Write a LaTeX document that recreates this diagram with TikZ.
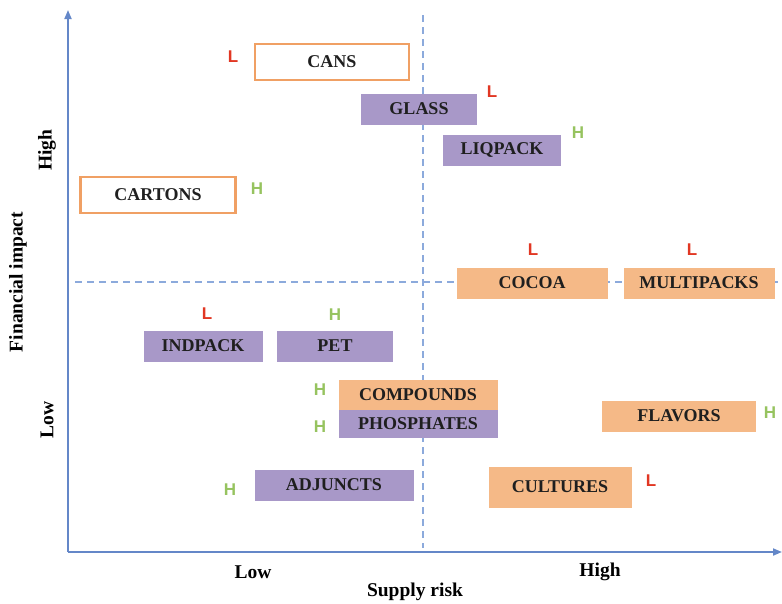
\documentclass[tikz,border=0pt]{standalone}
\usepackage{fontspec}
\setmainfont{Liberation Serif}
\newfontfamily\markfont{Liberation Sans}
\usetikzlibrary{arrows.meta}
\definecolor{axisblue}{RGB}{100,135,200}
\definecolor{dashblue}{RGB}{140,170,220}
\definecolor{boxpurple}{RGB}{168,152,200}
\definecolor{boxorange}{RGB}{245,185,135}
\definecolor{lineorange}{RGB}{240,160,100}
\definecolor{markred}{RGB}{225,55,35}
\definecolor{markgreen}{RGB}{150,195,95}
\tikzset{
  every node/.style={inner sep=0pt, outer sep=0pt},
  item/.style={minimum width=#1, font=\fontsize{18}{18}\selectfont\bfseries, text=black!88},
  purplebox/.style={item=#1, fill=boxpurple, minimum height=31},
  orangebox/.style={item=#1, fill=boxorange, minimum height=31},
  openbox/.style={item=#1, draw=lineorange, line width=2.5pt, fill=white, minimum height=36},
  lowmark/.style={font=\markfont\fontsize{17}{17}\selectfont\bfseries, text=markred},
  highmark/.style={font=\markfont\fontsize{17}{17}\selectfont\bfseries, text=markgreen},
  axislabel/.style={font=\fontsize{19.5}{19.5}\selectfont\bfseries},
  axis/.style={draw=axisblue, line width=1.8pt, -{Triangle[length=9pt,width=7pt]}},
  divider/.style={draw=dashblue, line width=1.3pt, dash pattern=on 7pt off 5pt},
}
\begin{document}
\begin{tikzpicture}[x=1pt,y=-1pt]
\useasboundingbox (0,0) rectangle (782,603);

% axes and quadrant dividers
\coordinate (origin) at (68,552);
\coordinate (ytip) at (68,10);
\coordinate (xtip) at (782,552);
\coordinate (hstart) at (75,282);
\coordinate (hend) at (782,282);
\coordinate (vstart) at (423,15);
\coordinate (vend) at (423,548);
\draw[divider] (hstart) -- (hend);
\draw[divider] (vstart) -- (vend);
\draw[axis] (origin) -- (ytip);
\draw[axis] (origin) -- (xtip);

% axis labels
\node[axislabel] (xlow) at (253,572) {Low};
\node[axislabel] (xhigh) at (600,572) {High};
\node[axislabel] (xname) at (415,592) {Supply risk};
\node[axislabel, rotate=90] (yhigh) at (47,150) {High};
\node[axislabel, rotate=90] (yname) at (18,282) {Financial impact};
\node[axislabel, rotate=90] (ylow) at (47,420) {Low};

% items
\node[openbox=154] (cans) at (332,62) {CANS};
\node[lowmark] (cansm) at (233,57) {L};
\node[purplebox=116] (glass) at (419,109) {GLASS};
\node[lowmark] (glassm) at (492,92) {L};
\node[purplebox=118] (liqpack) at (502,150) {LIQPACK};
\node[highmark] (liqpackm) at (578,133) {H};
\node[openbox=155] (cartons) at (158,195) {CARTONS};
\node[highmark] (cartonsm) at (257,189) {H};
\node[orangebox=151] (cocoa) at (532,283) {COCOA};
\node[lowmark] (cocoam) at (533,250) {L};
\node[orangebox=151] (multipacks) at (699,283) {MULTIPACKS};
\node[lowmark] (multipacksm) at (692,250) {L};
\node[purplebox=119] (indpack) at (203,346) {INDPACK};
\node[lowmark] (indpackm) at (207,314) {L};
\node[purplebox=116] (pet) at (335,346) {PET};
\node[highmark] (petm) at (335,315) {H};
\node[orangebox=159, minimum height=30] (compounds) at (418,395) {COMPOUNDS};
\node[highmark] (compoundsm) at (320,390) {H};
\node[purplebox=159, minimum height=28] (phosphates) at (418,424) {PHOSPHATES};
\node[highmark] (phosphatesm) at (320,427) {H};
\node[orangebox=154] (flavors) at (679,416) {FLAVORS};
\node[highmark] (flavorsm) at (770,413) {H};
\node[purplebox=159] (adjuncts) at (334,485) {ADJUNCTS};
\node[highmark] (adjunctsm) at (230,490) {H};
\node[orangebox=143, minimum height=41] (cultures) at (560,487) {CULTURES};
\node[lowmark] (culturesm) at (651,481) {L};
\end{tikzpicture}
\end{document}
